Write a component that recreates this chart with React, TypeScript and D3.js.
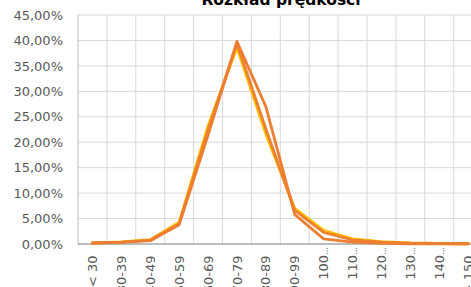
import React from 'react';
import * as d3 from 'd3';

// Kategorie prędkości (etykiety osi X)
const categories = ['< 30', '30-39', '40-49', '50-59', '60-69', '70-79', '80-89', '90-99', '100…', '110…', '120…', '130…', '140…', '> 150'];

// Udział pojazdów w % dla trzech serii
const seriesYellow = [0.2, 0.4, 0.85, 4.3, 23.2, 38.6, 21.6, 7.0, 2.7, 1.0, 0.45, 0.2, 0.1, 0.05];
const seriesOrangeB = [0.2, 0.35, 0.75, 4.0, 22.4, 39.4, 22.6, 6.6, 2.3, 0.8, 0.35, 0.15, 0.08, 0.05];
const seriesOrangeA = [0.2, 0.3, 0.65, 3.8, 21.4, 39.8, 27.0, 5.8, 1.0, 0.35, 0.15, 0.05, 0.05, 0.05];

const yTicks = [0, 5, 10, 15, 20, 25, 30, 35, 40, 45];

const W = 471;
const H = 287;
const margin = { top: 15, left: 78, bottom: 43 };
const bandW = 28.9;

const App = () => {
  const plotRight = margin.left + bandW * categories.length;
  const plotBottom = H - margin.bottom;

  const x = d3.scaleBand<string>().domain(categories).range([margin.left, plotRight]);
  const y = d3.scaleLinear().domain([0, 45]).range([plotBottom, margin.top]);

  const line = d3
    .line<number>()
    .x((_, i) => (x(categories[i]) as number) + x.bandwidth() / 2)
    .y((d) => y(d));

  const fmt = (v: number) => v.toFixed(2).replace('.', ',') + '%';

  const series = [
    { values: seriesYellow, color: '#FFC000' },
    { values: seriesOrangeB, color: '#EE8130' },
    { values: seriesOrangeA, color: '#ED7D31' },
  ];

  return (
    <svg width={W} height={H} style={{ position: 'absolute', left: 0, top: 0, background: '#fff' }} fontFamily="DejaVu Sans, Verdana, sans-serif">
      {/* siatka pozioma */}
      {yTicks.map((t) => (
        <line key={'h' + t} x1={margin.left} x2={plotRight} y1={y(t)} y2={y(t)} stroke="#D9D9D9" strokeWidth={1} />
      ))}
      {/* siatka pionowa */}
      {categories.map((c, i) => (
        <line key={'v' + i} x1={(x(c) as number) + bandW} x2={(x(c) as number) + bandW} y1={margin.top} y2={plotBottom} stroke="#D9D9D9" strokeWidth={1} />
      ))}
      {/* osie */}
      <line x1={margin.left} x2={margin.left} y1={margin.top} y2={plotBottom} stroke="#BFBFBF" strokeWidth={1} />
      <line x1={margin.left} x2={plotRight} y1={plotBottom} y2={plotBottom} stroke="#8C8C8C" strokeWidth={1} />

      {yTicks.map((t) => (
        <text key={'yt' + t} x={margin.left - 15} y={y(t)} dy="0.36em" textAnchor="end" fontSize={13} fill="#595959">
          {fmt(t)}
        </text>
      ))}

      {categories.map((c) => {
        const cx = (x(c) as number) + x.bandwidth() / 2;
        const cut = c.endsWith('…');
        const ty = cut ? plotBottom + 3 : plotBottom + 11.5;
        return (
          <text key={'xt' + c} transform={`translate(${cx + 4.6},${ty}) rotate(-90)`} textAnchor="end" fontSize={13} fill="#595959">
            {cut ? (
              <>
                {c.slice(0, -1)}
                <tspan fontSize={8}>…</tspan>
              </>
            ) : (
              c
            )}
          </text>
        );
      })}

      {series.map((s, i) => (
        <path key={'s' + i} d={line(s.values) || ''} fill="none" stroke={s.color} strokeWidth={2.8} strokeLinejoin="round" strokeLinecap="round" />
      ))}

      <text x={281} y={5} textAnchor="middle" fontSize={15.5} fontWeight="bold" fill="#000">
        Rozkład prędkości
      </text>
    </svg>
  );
};

export default App;
